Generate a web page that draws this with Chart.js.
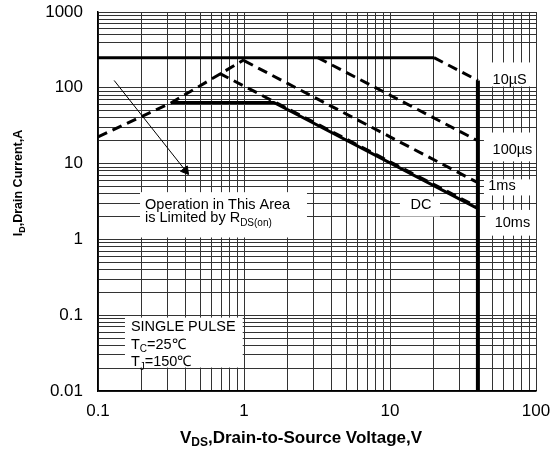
<!DOCTYPE html>
<html>
<head>
<meta charset="utf-8">
<script src="https://cdn.jsdelivr.net/npm/chart.js@4.4.1/dist/chart.umd.min.js"></script>
<style>
  html, body { margin: 0; padding: 0; background: #fff; }
</style>
</head>
<body>
<canvas id="soa" width="551" height="453"></canvas>
<script>
/* Safe Operating Area — log/log, VDS vs ID */

// ── Axis decades + labels ──────────────────────────────────
const xDecades = [0.1, 1, 10, 100];
const xLabels  = ['0.1', '1', '10', '100'];
const yDecades = [0.01, 0.1, 1, 10, 100, 1000];
const yLabels  = ['0.01', '0.1', '1', '10', '100', '1000'];
const yGridSkip = [200, 300];          // not ruled on the sheet

// ── Boundary curves (V, A) ─────────────────────────────────
const limitV   = [0.1, 20];            const limitI   = [250, 250];   // 10us current limit
const us10V    = [20, 40];             const us10I    = [250, 125];
const us100V   = [3.2, 40];            const us100I   = [250, 20];
const rdsV     = [0.1, 0.32, 1.0];     const rdsI     = [22.5, 64, 234];
const ms1V     = [1.0, 40];            const ms1I     = [228, 5.6];
const ms10V    = [0.68, 40];           const ms10I    = [155, 2.65];
const dcV      = [0.32, 1.6, 40];      const dcI      = [64, 64, 2.55];
const bvV      = [40, 40];             const bvI      = [125, 0.01];
const arrowV   = [0.129, 0.397];       const arrowI   = [125, 8.1];

const pts = (xs, ys) => xs.map((x, i) => ({ x, y: ys[i] }));

// white label boxes on the grid: [v1, v2, i1, i2]
const boxes = [
  [44, 100, 216, 104],      // 10us
  [44, 100, 25.7, 10.7],    // 100us
  [44, 100, 6.2, 3.8],      // 1ms
  [45, 100, 2.45, 1.12],    // 10ms
  [11.7, 22, 3.7, 2.0],     // DC
  [0.194, 2.7, 4.2, 1.06],  // Operation...
  [0.153, 0.98, 0.093, 0.0204], // single pulse
];

// texts: [v, i, align, parts]   parts: [text, sub?]
const notes = [
  [66,   128,   'center', [['10µS']]],
  [69,   15.3,  'center', [['100µs']]],
  [58.5, 5.0,   'center', [['1ms']]],
  [69,   1.67,  'center', [['10ms']]],
  [16.3, 2.88,  'center', [['DC']]],
  [0.21, 2.88,  'left',   [['Operation in This Area']]],
  [0.21, 1.89,  'left',   [['is Limited by R'], ['DS(on)', 1]]],
  [0.168, 0.069, 'left',  [['SINGLE PULSE']]],
  [0.168, 0.041, 'left',  [['T'], ['C', 1], ['=25℃']]],
  [0.168, 0.0238, 'left', [['T'], ['J', 1], ['=150℃']]],
];

const FONT = '"Liberation Sans", Arial, sans-serif';
const GRID = '#333';

function minorTicks(decades) {
  const out = [];
  decades.slice(0, -1).forEach(d => {
    for (let k = 1; k < 10; k++) out.push(+(k * d).toPrecision(3));
  });
  out.push(decades[decades.length - 1]);
  return out;
}

function decadeLabel(v, decades, labels) {
  const i = decades.findIndex(d => Math.abs(Math.log10(v) - Math.log10(d)) < 1e-9);
  return i >= 0 ? labels[i] : '';
}

function drawRich(ctx, parts, x, y, size, bold, align) {
  const font = s => (bold ? 'bold ' : '') + s + 'px ' + FONT;
  let total = 0;
  parts.forEach(p => {
    ctx.font = font(p[1] ? Math.round(size * 0.68) : size);
    total += ctx.measureText(p[0]).width;
  });
  let cx = align === 'center' ? x - total / 2 : x;
  ctx.textAlign = 'left';
  ctx.textBaseline = 'middle';
  parts.forEach(p => {
    const s = p[1] ? Math.round(size * 0.68) : size;
    ctx.font = font(s);
    ctx.fillText(p[0], cx, p[1] ? y + size * 0.3 : y);
    cx += ctx.measureText(p[0]).width;
  });
}

// ── Plugin: label boxes, notes and axis titles ─────────────
const soaNotes = {
  id: 'soaNotes',
  beforeDatasetsDraw(chart) {
    const { ctx, scales: { x, y } } = chart;
    ctx.save();
    ctx.fillStyle = '#fff';
    boxes.forEach(([v1, v2, i1, i2]) => {
      const l = x.getPixelForValue(v1), r = x.getPixelForValue(v2);
      const t = y.getPixelForValue(i1), b = y.getPixelForValue(i2);
      ctx.fillRect(l, t, r - l, b - t);
    });
    ctx.restore();
  },
  afterDatasetsDraw(chart) {
    const { ctx, scales: { x, y } } = chart;
    ctx.save();
    ctx.fillStyle = '#000';
    notes.forEach(([v, i, align, parts]) => {
      drawRich(ctx, parts, x.getPixelForValue(v), y.getPixelForValue(i), 14.5, false, align);
    });
    // x title
    drawRich(ctx, [['V'], ['DS', 1], [',Drain-to-Source Voltage,V']], 301, 438, 17, true, 'center');
    // y title
    ctx.translate(19, 183);
    ctx.rotate(-Math.PI / 2);
    drawRich(ctx, [['I'], ['D', 1], [',Drain Current,A']], 0, 0, 12.5, true, 'center');
    ctx.restore();
  }
};

const line = (data, width, dash) => ({
  data, borderColor: '#000', borderWidth: width, borderDash: dash || [],
  pointRadius: 0, fill: false, tension: 0, borderCapStyle: 'butt',
});

const datasets = [
  line(pts(limitV, limitI), 3),
  line(pts(us10V, us10I), 3, [10, 6]),
  line(pts(us100V, us100I), 3, [10, 6]),
  line(pts(rdsV, rdsI), 3, [10, 6]),
  line(pts(ms1V, ms1I), 3, [10, 6]),
  line(pts(ms10V, ms10I), 3, [10, 6]),
  line(pts(dcV, dcI), 3),
  line(pts(bvV, bvI), 4),
  {
    data: pts(arrowV, arrowI),
    borderColor: '#000', borderWidth: 1, fill: false,
    pointStyle: 'triangle',
    pointRadius: [0, 5],
    pointBackgroundColor: '#000', pointBorderColor: '#000', pointBorderWidth: 1,
    pointRotation: c => {
      const { x, y } = c.chart.scales;
      const dx = x.getPixelForValue(arrowV[1]) - x.getPixelForValue(arrowV[0]);
      const dy = y.getPixelForValue(arrowI[1]) - y.getPixelForValue(arrowI[0]);
      return Math.atan2(dx, -dy) * 180 / Math.PI;
    },
  },
];

new Chart(document.getElementById('soa'), {
  type: 'line',
  data: { datasets },
  plugins: [soaNotes],
  options: {
    responsive: false, animation: false, devicePixelRatio: 1,
    layout: { autoPadding: false, padding: { left: 0, right: 15, top: 12, bottom: 0 } },
    plugins: { legend: { display: false }, tooltip: { enabled: false } },
    scales: {
      x: {
        type: 'logarithmic', min: 0.1, max: 100,
        afterBuildTicks: s => { s.ticks = minorTicks(xDecades).map(value => ({ value })); },
        afterFit: s => { s.height = 62; s.paddingLeft = 0; s.paddingRight = 0; },
        ticks: {
          autoSkip: false, maxRotation: 0, padding: 10, color: '#000',
          font: { family: FONT, size: 17 },
          callback: v => decadeLabel(v, xDecades, xLabels),
        },
        grid: { color: GRID, lineWidth: 1, drawTicks: false },
        border: { color: '#000', width: 1.5 },
      },
      y: {
        type: 'logarithmic', min: 0.01, max: 1000,
        afterBuildTicks: s => { s.ticks = minorTicks(yDecades).map(value => ({ value })); },
        afterFit: s => { s.width = 98; s.paddingTop = 0; s.paddingBottom = 0; },
        ticks: {
          autoSkip: false, padding: 15, color: '#000',
          font: { family: FONT, size: 17 },
          callback: v => decadeLabel(v, yDecades, yLabels),
        },
        grid: {
          lineWidth: 1, drawTicks: false,
          color: c => (c.tick && yGridSkip.includes(c.tick.value)) ? 'rgba(0,0,0,0)' : GRID,
        },
        border: { color: '#000', width: 1.5 },
      },
    },
  },
});
</script>
</body>
</html>
